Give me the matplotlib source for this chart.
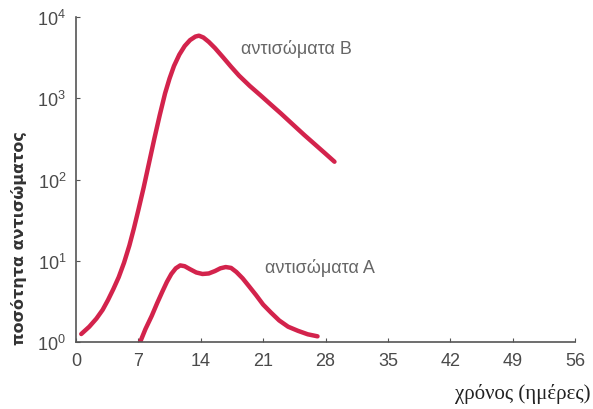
import matplotlib.pyplot as plt

plt.rcParams['mathtext.fontset'] = 'custom'
plt.rcParams['mathtext.rm'] = 'Liberation Sans'
plt.rcParams['mathtext.it'] = 'Liberation Sans'

# days / antibody amount
days_b = [0.6, 1.5, 2.3, 3.0, 3.6, 4.2, 4.8, 5.4, 6.0, 6.5, 7.0, 7.6, 8.2, 8.8, 9.4, 10.0, 10.5, 11.0, 11.6, 12.2, 12.8, 13.4, 13.8, 14.3, 14.9, 15.6, 16.5, 17.4, 18.3, 19.5, 20.7, 21.8, 23.0, 24.3, 25.6, 27.0, 28.0, 29.0]
amount_b = [1.26, 1.55, 1.95, 2.5, 3.3, 4.5, 6.3, 9.5, 15.5, 25.0, 42.0, 80.0, 160.0, 320.0, 620.0, 1150.0, 1750.0, 2500.0, 3450.0, 4400.0, 5200.0, 5750.0, 5900.0, 5600.0, 4950.0, 4150.0, 3200.0, 2450.0, 1900.0, 1420.0, 1090.0, 850.0, 650.0, 480.0, 355.0, 260.0, 208.0, 166.0]

days_a = [7.2, 7.8, 8.5, 9.1, 9.7, 10.2, 10.7, 11.2, 11.7, 12.2, 12.8, 13.5, 14.2, 14.9, 15.6, 16.2, 16.8, 17.4, 18.0, 18.7, 19.4, 20.2, 21.0, 21.9, 22.8, 23.8, 24.9, 26.0, 27.1]
amount_a = [1.0, 1.45, 2.1, 3.0, 4.2, 5.5, 6.9, 8.1, 8.8, 8.6, 7.9, 7.2, 6.9, 7.0, 7.5, 8.1, 8.4, 8.2, 7.3, 6.1, 4.9, 3.8, 2.9, 2.3, 1.85, 1.55, 1.38, 1.25, 1.18]

xticks = [0, 7, 14, 21, 28, 35, 42, 49, 56]
yticks = [1, 10, 100, 1000, 10000]
ylabels = ['$10^{0}$', '$10^{1}$', '$10^{2}$', '$10^{3}$', '$10^{4}$']

fig = plt.figure(figsize=(5.93, 4.10), dpi=100)
ax = fig.add_axes([0.128, 0.163, 0.842, 0.793])

red = '#d3234c'
ax.plot(days_b, amount_b, color=red, lw=3.2, solid_capstyle='round')
ax.plot(days_a, amount_a, color=red, lw=3.2, solid_capstyle='round')

ax.set_yscale('log')
ax.set_ylim(1, 1e4)
ax.set_xlim(0, 56)
ax.set_xticks(xticks)
ax.set_yticks(yticks)
ax.set_yticklabels(ylabels)
ax.minorticks_off()

for s in ['top', 'right']:
    ax.spines[s].set_visible(False)
for s in ['left', 'bottom']:
    ax.spines[s].set_color('#555555')
    ax.spines[s].set_linewidth(1.2)
ax.tick_params(direction='in', length=3, color='#555555', labelcolor='#4a4a4a', labelsize=13)
ax.tick_params(axis='x', pad=7)
ax.tick_params(axis='y', pad=7)
for lab in ax.get_xticklabels() + ax.get_yticklabels():
    lab.set_family('Liberation Sans')

ax.text(18.5, 4200, 'αντισώματα Β', color='#666666', fontsize=13, va='center', ha='left',
        family='Liberation Sans')
ax.text(21.2, 8.5, 'αντισώματα Α', color='#666666', fontsize=13, va='center', ha='left',
        family='Liberation Sans')

fig.text(0.995, 0.039, 'χρόνος (ημέρες)', family='Liberation Serif', fontsize=15,
         color='#222222', ha='right', va='center')
fig.text(0.032, 0.42, 'ποσότητα αντισώματος', rotation=90, fontsize=11.5, fontweight='bold',
         color='#333333', ha='center', va='center')

fig.savefig('out.png', dpi=100)
